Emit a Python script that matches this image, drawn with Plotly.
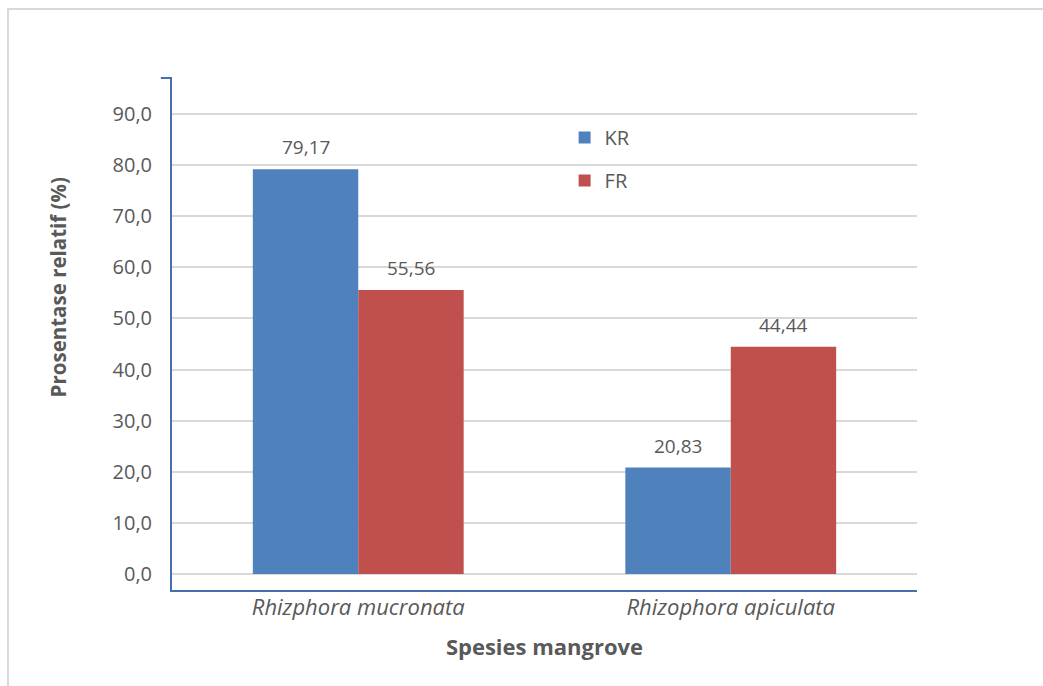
import plotly.graph_objects as go

# Species and relative percentages (KR = kerapatan relatif, FR = frekuensi relatif)
species = ["Rhizphora mucronata", "Rhizophora apiculata"]
kr_values = [79.17, 20.83]
fr_values = [55.56, 44.44]
series_names = ["KR", "FR"]
y_ticks = [0, 10, 20, 30, 40, 50, 60, 70, 80, 90]
y_tick_labels = ["0,0", "10,0", "20,0", "30,0", "40,0", "50,0", "60,0", "70,0", "80,0", "90,0"]

BLUE = "#4F81BD"
RED = "#C0504D"
GREY_TEXT = "#595959"
AXIS_BLUE = "#4470AC"
FONT = "'Open Sans', sans-serif"

BAR_PX = 105  # approximate drawn bar width, used to centre value labels


def fmt(v):
    return f"{v:.2f}".replace(".", ",")


fig = go.Figure()
series = [
    (series_names[0], kr_values, BLUE, "g1", -0.5),
    (series_names[1], fr_values, RED, "g2", 0.5),
]
annotations = []
for name, vals, color, grp, side in series:
    fig.add_trace(go.Bar(
        x=species,
        y=vals,
        name=name,
        legendgroup=grp,
        marker=dict(color=color, line=dict(width=0)),
    ))
    for cat, v in zip(species, vals):
        annotations.append(dict(
            x=cat, y=v, xref="x", yref="y",
            text=fmt(v), showarrow=False,
            yanchor="bottom", xanchor="center",
            xshift=side * BAR_PX, yshift=7,
            font=dict(family=FONT, size=19, color=GREY_TEXT),
        ))

# value-axis title, placed by hand beside the tick labels
annotations.append(dict(
    x=-0.153, y=0.591, xref="paper", yref="paper",
    text="<b>Prosentase relatif (%)</b>", showarrow=False, textangle=-90,
    xanchor="center", yanchor="middle",
    font=dict(family=FONT, size=20.5, color=GREY_TEXT),
))

fig.update_layout(
    width=1043,
    height=686,
    paper_bgcolor="white",
    plot_bgcolor="white",
    margin=dict(l=172, r=126, t=78, b=96),
    barmode="group",
    bargap=0.434,
    bargroupgap=0,
    font=dict(family=FONT, color=GREY_TEXT),
    annotations=annotations,
    legend=dict(
        x=0.527, y=0.922, xanchor="left", yanchor="top",
        font=dict(family=FONT, size=20, color=GREY_TEXT),
        tracegroupgap=14,
        bgcolor="rgba(0,0,0,0)",
        itemwidth=30,
    ),
    xaxis=dict(
        range=[-0.5, 1.5],
        showline=True, linecolor=AXIS_BLUE, linewidth=2,
        showgrid=False, ticks="",
        tickfont=dict(family=FONT, size=22, color=GREY_TEXT, style="italic"),
        ticklabelstandoff=-3,
        title=dict(text="<b>Spesies mangrove</b>", font=dict(family=FONT, size=22, color=GREY_TEXT), standoff=19),
    ),
    yaxis=dict(
        range=[-3.13, 97.04],
        tickvals=y_ticks, ticktext=y_tick_labels,
        showline=True, linecolor=AXIS_BLUE, linewidth=2,
        showgrid=True, gridcolor="#D9D9D9", gridwidth=2,
        zeroline=False, ticks="",
        tickfont=dict(family=FONT, size=20, color=GREY_TEXT),
        ticklabelstandoff=14,
    ),
    shapes=[
        # small stub at the top of the value axis
        dict(type="line", xref="paper", yref="paper", x0=-0.015, x1=0, y0=1, y1=1,
             line=dict(color=AXIS_BLUE, width=2)),
        # chart frame
        dict(type="rect", xref="paper", yref="paper", x0=-0.2201, x1=1.19, y0=-0.22, y1=1.1348,
             line=dict(color="#D9D9D9", width=2), layer="below"),
    ],
)

fig.write_html("out.html")
